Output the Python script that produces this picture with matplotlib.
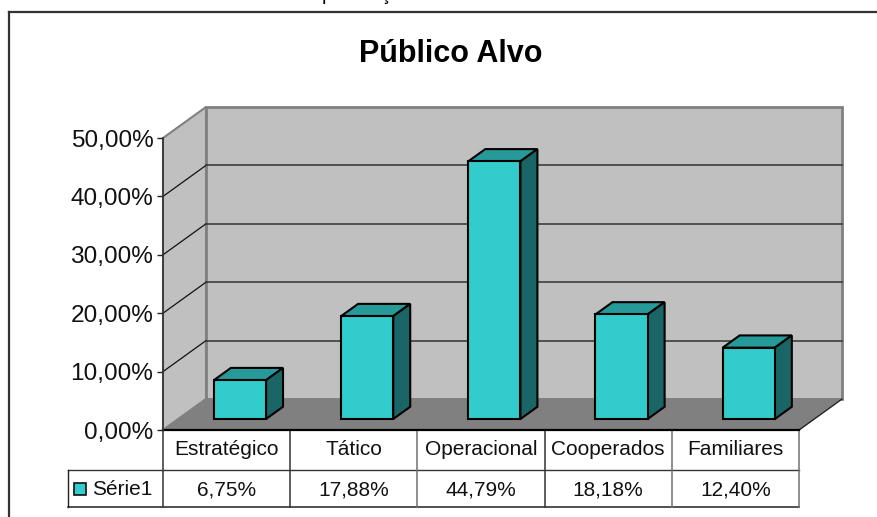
import matplotlib
matplotlib.use("Agg")
import matplotlib.pyplot as plt

plt.rcParams['font.family'] = ['Liberation Sans', 'DejaVu Sans']

categories = ['Estratégico', 'Tático', 'Operacional', 'Cooperados', 'Familiares']
valores = [6.75, 17.88, 44.79, 18.18, 12.40]
rotulos = ['6,75%', '17,88%', '44,79%', '18,18%', '12,40%']
serie = 'Série1'
y_ticks = [0, 10, 20, 30, 40, 50]
y_labels = ['0,00%', '10,00%', '20,00%', '30,00%', '40,00%', '50,00%']

W, H = 877, 517
fig = plt.figure(figsize=(W / 100, H / 100), dpi=100)
ax = fig.add_axes([163 / W, (H - 430) / H, 636 / W, 292 / H])
ax.set_xlim(0, 5)
ax.set_ylim(0, 50)

# falso 3D: profundidade d=1 desloca 43px para a direita e 31px para cima
DX = 43 / (636 / 5)
DY = 31 / (292 / 50)


def p(x, y, d=0.0):
    return (x + d * DX, y + d * DY)


def face(pts, **kw):
    xs = [a[0] for a in pts]
    ys = [a[1] for a in pts]
    ax.fill(xs, ys, clip_on=False, **kw)


CINZA = '#808080'
# paredes e chao
face([p(0, 0), p(0, 50), p(0, 50, 1), p(0, 0, 1)], facecolor='#C0C0C0', edgecolor=CINZA, linewidth=1.5, zorder=1)
face([p(0, 0, 1), p(0, 50, 1), p(5, 50, 1), p(5, 0, 1)], facecolor='#C0C0C0', edgecolor=CINZA, linewidth=2, zorder=1)
face([p(0, 0), p(5, 0), p(5, 0, 1), p(0, 0, 1)], facecolor=CINZA, edgecolor=CINZA, linewidth=1, zorder=2)

# linhas de grade
for t in y_ticks[1:-1]:
    ax.plot(*zip(p(0, t), p(0, t, 1)), color='#111111', lw=0.9, clip_on=False, zorder=3)
    ax.plot(*zip(p(0, t, 1), p(5, t, 1)), color='#333333', lw=1.1, clip_on=False, zorder=3)
ax.plot(*zip(p(5, 0), p(5, 0, 1)), color='#222222', lw=0.9, clip_on=False, zorder=3)

# barras (encolhem um pouco com a profundidade, como no original)
d0, d1 = 0.355, 0.75
larg = 0.41
encolhe = 0.985
for i, v in enumerate(valores):
    x0 = i + 0.28
    x1 = x0 + larg
    h = v * encolhe
    z = 5 + i
    borda = dict(edgecolor='black', linewidth=1.5, joinstyle='miter', zorder=z)
    face([p(x0, h, d0), p(x1, h, d0), p(x1, h, d1), p(x0, h, d1)], facecolor='#269999', **borda)
    face([p(x1, 0, d0), p(x1, h, d0), p(x1, h, d1), p(x1, 0, d1)], facecolor='#1A6666', **borda)
    face([p(x0, 0, d0), p(x1, 0, d0), p(x1, h, d0), p(x0, h, d0)], facecolor='#33CCCC', **borda)

# eixos
for s in ['top', 'right', 'bottom']:
    ax.spines[s].set_visible(False)
ax.spines['left'].set_color('#333333')
ax.spines['left'].set_linewidth(1.2)
ax.spines['left'].set_zorder(4)
ax.set_xticks([])
ax.set_yticks(y_ticks)
ax.set_yticklabels(y_labels, fontsize=17.6, color='#111111')
ax.tick_params(axis='y', length=4, width=1, pad=3, color='#222222')

# tabela de dados abaixo do grafico
lin1 = -40 / (292 / 50)
lin2 = -77 / (292 / 50)
esq = -95 / (636 / 5)
TAB = '#333333'
ax.plot([0, 5], [0, 0], color='black', lw=1.6, clip_on=False, zorder=4)
ax.plot([esq, 5], [lin1, lin1], color=TAB, lw=1.0, clip_on=False)
ax.plot([esq, 5], [lin2, lin2], color='#222222', lw=1.1, clip_on=False)
ax.plot([esq, esq], [lin1, lin2], color='#222222', lw=1.0, clip_on=False)
for x in range(6):
    ax.plot([x, x], [0, lin2], color=TAB if x in (0, 1, 3) else '#707070', lw=1.1, clip_on=False)
for i in range(len(categories)):
    ax.text(i + 0.5, lin1 / 2 + 0.15, categories[i], ha='center', va='center', fontsize=15, color='#111111')
    ax.text(i + 0.5, (lin1 + lin2) / 2 - 0.2, rotulos[i], ha='center', va='center', fontsize=15, color='#111111')
ax.plot([esq + 0.095], [(lin1 + lin2) / 2 - 0.1], marker='s', ms=8.5, mfc='#33CCCC', mec='#111111', mew=1.2,
        clip_on=False)
ax.text(-0.085, (lin1 + lin2) / 2 - 0.2, serie, ha='right', va='center', fontsize=15, color='#111111')

# moldura: so topo e esquerda aparecem, o resto foi cortado no recorte
fig.add_artist(plt.Line2D([9 / W, 1], [1 - 12 / H, 1 - 12 / H], color='#333333', lw=1.6))
fig.add_artist(plt.Line2D([9 / W, 9 / W], [1 - 12 / H, 0], color='#333333', lw=1.6))

fig.text(451 / W, 1 - 54 / H, 'Público Alvo', ha='center', va='center', fontsize=22, fontweight='bold')

# restos de um texto cortado na borda superior, como no original
fig.text(327 / W, 1.0, 'p', ha='center', va='baseline', fontsize=14)
fig.text(385 / W, 1.0, 'ç', ha='center', va='baseline', fontsize=14)

fig.savefig('out.png', dpi=100)
plt.close()
